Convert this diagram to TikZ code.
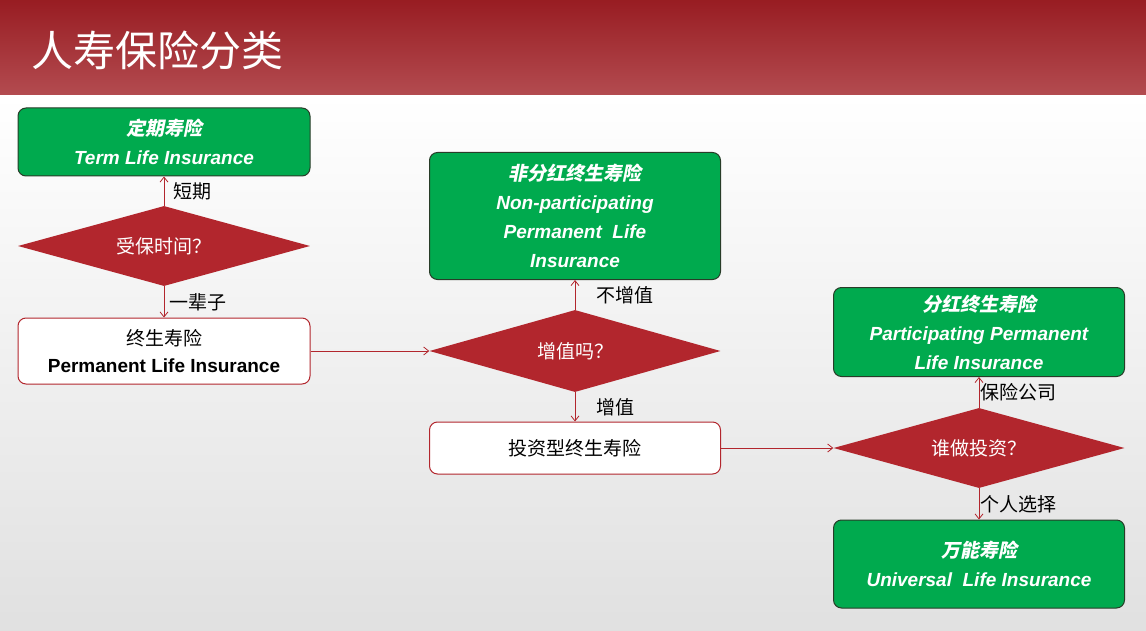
\documentclass[tikz,border=0pt]{standalone}
\usepackage{fontspec}
\setmainfont{Liberation Sans}
\newfontfamily\cjk{Noto Sans CJK SC}
\newfontfamily\cjkit[FakeSlant=0.2]{Noto Sans CJK SC}
\usetikzlibrary{shapes.geometric,arrows.meta}
\definecolor{hred}{RGB}{160,30,36}
\definecolor{dred}{RGB}{178,38,45}
\definecolor{gbox}{RGB}{0,170,78}
\definecolor{gline}{RGB}{40,60,40}
\begin{document}
\begin{tikzpicture}[x=1pt,y=-1pt,
  gnode/.style={draw=gline,line width=1pt,fill=gbox,rounded corners=8pt,text=white,align=center,font=\fontsize{19}{29}\selectfont\bfseries\itshape},
  wnode/.style={draw=dred,line width=1pt,fill=white,rounded corners=8pt,align=center,font=\fontsize{19}{27}\selectfont},
  dia/.style={diamond,fill=dred,text=white,font=\cjk\fontsize{19}{23}\selectfont,inner sep=0pt},
  arr/.style={draw=dred,line width=0.8pt,-{Straight Barb[length=5pt,width=8pt]}},
  lbl/.style={font=\cjk\fontsize{19}{23}\selectfont}]
\shade[top color=white,bottom color=black!12] (0,95) rectangle (1146,631);
\shade[top color=hred!95!black,bottom color=hred!80] (0,0) rectangle (1146,95);
\useasboundingbox (0,0) rectangle (1146,631);
\node[text=white,font=\cjk\fontsize{42}{48}\selectfont,anchor=west] (title) at (28,50) {人寿保险分类};
\node[gnode,minimum width=292pt,minimum height=68pt] (term) at (164,142) {{\cjkit 定期寿险}\\Term Life Insurance};
\node[dia,minimum width=292pt,minimum height=80pt,shape aspect=3.65] (d1) at (164,246) {受保时间？};
\node[wnode,minimum width=292pt,minimum height=66pt] (perm) at (164,351) {{\cjk 终生寿险}\\\bfseries Permanent Life Insurance};
\node[gnode,minimum width=291pt,minimum height=127pt] (nonp) at (575,216) {{\cjkit 非分红终生寿险}\\Non-participating\\Permanent\ \ Life\\Insurance};
\node[dia,minimum width=291pt,minimum height=82pt,shape aspect=3.55] (d2) at (575,351) {增值吗？};
\node[wnode,minimum width=291pt,minimum height=52pt,font=\cjk\fontsize{19}{23}\selectfont] (inv) at (575,448) {投资型终生寿险};
\node[gnode,minimum width=291pt,minimum height=89pt] (par) at (979,332) {{\cjkit 分红终生寿险}\\Participating Permanent\\Life Insurance};
\node[dia,minimum width=291pt,minimum height=80pt,shape aspect=3.64] (d3) at (979,448) {谁做投资？};
\node[gnode,minimum width=291pt,minimum height=88pt] (univ) at (979,564) {{\cjkit 万能寿险}\\Universal\ \ Life Insurance};
\draw[arr] (d1) -- (term) node[lbl,midway,right=6pt] (l1) {短期};
\draw[arr] (d1) -- (perm) node[lbl,midway,right=2pt] (l2) {一辈子};
\draw[arr] (perm) -- (d2);
\draw[arr] (d2) -- (nonp) node[lbl,midway,right=18pt] (l3) {不增值};
\draw[arr] (d2) -- (inv) node[lbl,midway,right=18pt] (l4) {增值};
\draw[arr] (inv) -- (d3);
\draw[arr] (d3) -- (par) node[lbl,midway,right=-2pt] (l5) {保险公司};
\draw[arr] (d3) -- (univ) node[lbl,midway,right=-2pt] (l6) {个人选择};
\end{tikzpicture}
\end{document}
